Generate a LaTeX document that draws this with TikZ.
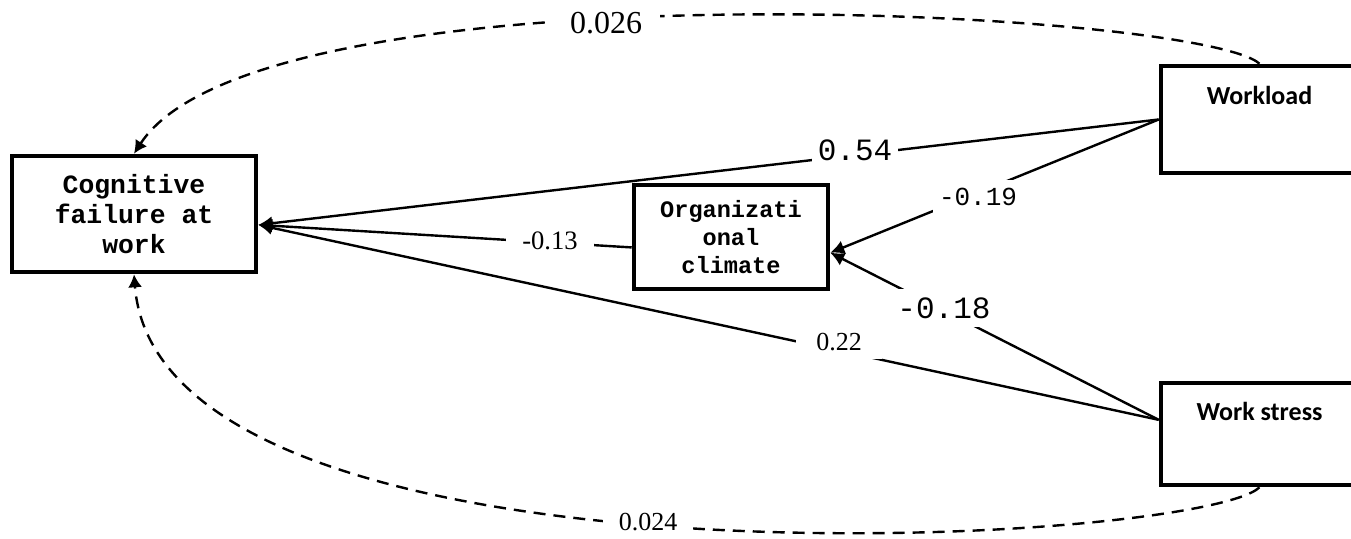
\documentclass[tikz,border=0pt]{standalone}
\usepackage{fontspec}
\usetikzlibrary{arrows.meta}
\newfontfamily\courfont{Liberation Mono}
\newfontfamily\calfont{Carlito}
\newfontfamily\timesfont{Liberation Serif}

\tikzset{
    varbox/.style={draw, black, line width=2.3pt, rectangle, inner sep=0pt},
    effect/.style={black, line width=1.2pt, -{Latex[length=7pt, width=7pt]}},
    covar/.style={black, line width=1.2pt, dash pattern=on 6pt off 4pt, -{Latex[length=6.5pt, width=7pt]}},
    coef/.style={fill=white, inner ysep=4pt, inner xsep=3pt}
}

\begin{document}
\begin{tikzpicture}[x=0.5pt, y=-0.5pt]
        \clip (0,0) rectangle (1351,539);

        \node [varbox, minimum width=122pt, minimum height=58pt, align=center, font=\courfont\bfseries\fontsize{13.2}{14.8}\selectfont] (cf) at (134,214) {Cognitive\\failure at\\work};
        \node [varbox, minimum width=97pt, minimum height=52pt, align=center, font=\courfont\bfseries\fontsize{11.8}{14}\selectfont] (oc) at (731,237) {Organizati\\onal\\climate};
        \node [varbox, minimum width=98.5pt, minimum height=53.5pt] (wl) at (1259.5,119.5) {};
        \node [font=\calfont\bfseries\fontsize{13}{15}\selectfont] (wltext) at (1259.5,95) {Workload};
        \node [varbox, minimum width=98.5pt, minimum height=51pt] (ws) at (1259.5,434) {};
        \node [font=\calfont\bfseries\fontsize{13}{15}\selectfont] (wstext) at (1259.5,411) {Work stress};

        \draw [effect] (wl.west) -- (cf.-5.5);
        \draw [effect] (wl.west) -- (oc.-9);
        \draw [effect] (ws.172) -- (oc.-9);
        \draw [effect] (ws.172) -- (cf.-5.5);
        \draw [effect] (oc.186) -- (cf.-5.5);

        \draw [covar] (wl.north) .. controls (1200,10) and (260,-40) .. (cf.north);
        \draw [covar] (ws.south) .. controls (1200,545) and (160,605) .. (cf.south);

        \node [coef, font=\courfont\fontsize{15.5}{15.5}\selectfont] (b54) at (855,150) {0.54};
        \node [coef, font=\courfont\fontsize{13}{13}\selectfont] (b19) at (978,197) {-0.19};
        \node [coef, font=\courfont\fontsize{15.5}{15.5}\selectfont] (b18) at (944,308) {-0.18};
        \node [coef, inner xsep=10pt, font=\timesfont\fontsize{13}{13}\selectfont] (b22) at (839,342) {0.22};
        \node [coef, inner xsep=8pt, font=\timesfont\fontsize{13.3}{13.3}\selectfont] (b13) at (550,241) {-0.13};
        \node [coef, inner xsep=9pt, font=\timesfont\fontsize{16}{16}\selectfont] (b26) at (606,23) {0.026};
        \node [coef, inner xsep=8pt, font=\timesfont\fontsize{13}{13}\selectfont] (b24) at (648,522) {0.024};
\end{tikzpicture}
\end{document}
